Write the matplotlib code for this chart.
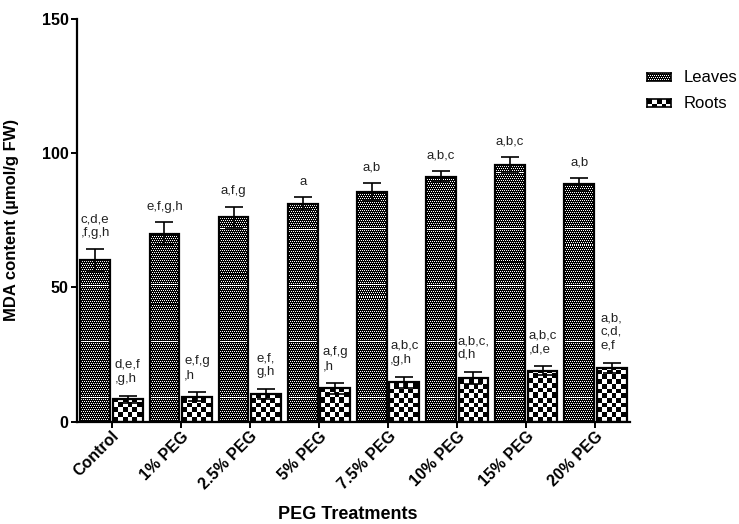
import matplotlib
matplotlib.use('Agg')
import matplotlib.pyplot as plt
import numpy as np

# MDA content under PEG treatments
treatments = ['Control', '1% PEG', '2.5% PEG', '5% PEG', '7.5% PEG', '10% PEG', '15% PEG', '20% PEG']
leaves_mean = [60.3, 70.1, 76.1, 81.2, 85.7, 91.2, 95.8, 88.4]
leaves_err = [4.2, 4.2, 4.0, 2.4, 3.2, 2.1, 2.8, 2.2]
roots_mean = [8.3, 9.3, 10.3, 12.4, 14.7, 16.2, 19.0, 20.1]
roots_err = [1.4, 1.7, 1.8, 1.9, 2.0, 2.3, 1.7, 1.8]

leaves_letters = ['c,d,e\n,f,g,h', 'e,f,g,h', 'a,f,g', 'a', 'a,b', 'a,b,c', 'a,b,c', 'a,b']
roots_letters = ['d,e,f\n,g,h', 'e,f,g\n,h', 'e,f,\ng,h', 'a,f,g\n,h', 'a,b,c\n,g,h',
                 'a,b,c,\nd,h', 'a,b,c\n,d,e', 'a,b,\nc,d,\ne,f']

plt.rcParams['font.family'] = ['Liberation Sans', 'DejaVu Sans']

W, H = 739, 524
fig = plt.figure(figsize=(W / 100, H / 100), dpi=100)
ax_rect = [77 / W, 1 - 421.7 / H, 553 / W, 402.7 / H]
ax = fig.add_axes(ax_rect)

ymax = 150
ax.set_xlim(-0.5, len(treatments) - 0.5)
ax.set_ylim(0, ymax)
px_x = W * ax_rect[2] / len(treatments)
px_y = H * ax_rect[3] / ymax


def checker(h_px, w_px, cell):
    i = np.arange(h_px)[:, None]
    j = np.arange(w_px)[None, :]
    return ((i // cell + j // cell) % 2).astype(float)


def leaves_pattern(h_px, w_px):
    # dark fill with a staggered grid of white dots
    i = np.arange(h_px)[:, None]
    j = np.arange(w_px)[None, :]
    p = ((i % 2 == 0) & (j % 2 == (i // 2) % 2)).astype(float)
    rows = np.arange(h_px)
    p[(rows - 24) % 56 == 0, :] = 1.0
    return p


def roots_pattern(h_px, w_px):
    return checker(h_px, w_px, 4.7)


x = np.arange(len(treatments))
width = 0.43
off = 0.235


def draw_group(xpos, means, errs, pattern):
    bars = ax.bar(xpos, means, width, facecolor='none', edgecolor='black', linewidth=1.6, zorder=3)
    for bar in bars:
        x0 = bar.get_x()
        h = bar.get_height()
        w_px = int(np.ceil(width * px_x)) + 1
        h_px = int(np.ceil(h * px_y)) + 1
        img = ax.imshow(pattern(h_px, w_px), cmap='gray', vmin=0, vmax=1, origin='lower',
                        interpolation='nearest', aspect='auto',
                        extent=(x0, x0 + w_px / px_x, 0, h_px / px_y), zorder=2)
        img.set_clip_path(bar)
    ax.errorbar(xpos, means, yerr=errs, fmt='none', ecolor='black', elinewidth=1.2,
                capsize=6.5, capthick=1.2, zorder=4)


draw_group(x - off, leaves_mean, leaves_err, leaves_pattern)
draw_group(x + off, roots_mean, roots_err, roots_pattern)

ax.set_xlim(-0.5, len(treatments) - 0.5)
ax.set_ylim(0, ymax)

for xi, m, e, t in zip(x - off, leaves_mean, leaves_err, leaves_letters):
    ax.annotate(t, (xi, m + e), xytext=(0, 7), textcoords='offset points', ha='center',
                va='bottom', fontsize=9.5, color='#222222', multialignment='left', linespacing=1.2)
for xi, m, e, t in zip(x + off, roots_mean, roots_err, roots_letters):
    ax.annotate(t, (xi, m + e), xytext=(0, 8), textcoords='offset points', ha='center',
                va='bottom', fontsize=9.5, color='#222222', multialignment='left', linespacing=1.2)

ax.spines['top'].set_visible(False)
ax.spines['right'].set_visible(False)
ax.spines['left'].set_linewidth(1.6)
ax.spines['bottom'].set_linewidth(1.6)
ax.set_yticks([0, 50, 100, 150])
ax.set_xticks(x)
ax.set_xticklabels(treatments, rotation=45, ha='right', rotation_mode='anchor')
ax.tick_params(axis='both', direction='out', length=4, width=1.4, labelsize=11.5, pad=2)
ax.tick_params(axis='x', pad=1)
for lbl in ax.get_xticklabels() + ax.get_yticklabels():
    lbl.set_fontweight('bold')

ax.set_ylabel('MDA content (µmol/g FW)', fontsize=12, fontweight='bold')
ax.yaxis.set_label_coords(-0.105, 0.5)
ax.set_xlabel('PEG Treatments', fontsize=13, fontweight='bold')
ax.xaxis.set_label_coords(0.49, -0.21)

# legend swatches
for label, pattern, yc in [('Leaves', leaves_pattern, 77), ('Roots', roots_pattern, 103)]:
    lax = fig.add_axes([647 / W, 1 - (yc + 4) / H, 24 / W, 8 / H])
    lax.imshow(pattern(8, 24), cmap='gray', vmin=0, vmax=1, interpolation='nearest', aspect='auto')
    lax.set_xticks([])
    lax.set_yticks([])
    for s in lax.spines.values():
        s.set_linewidth(1.2)
    fig.text(684 / W, 1 - yc / H, label, fontsize=12, va='center', ha='left')

fig.savefig('out.png', dpi=100)
